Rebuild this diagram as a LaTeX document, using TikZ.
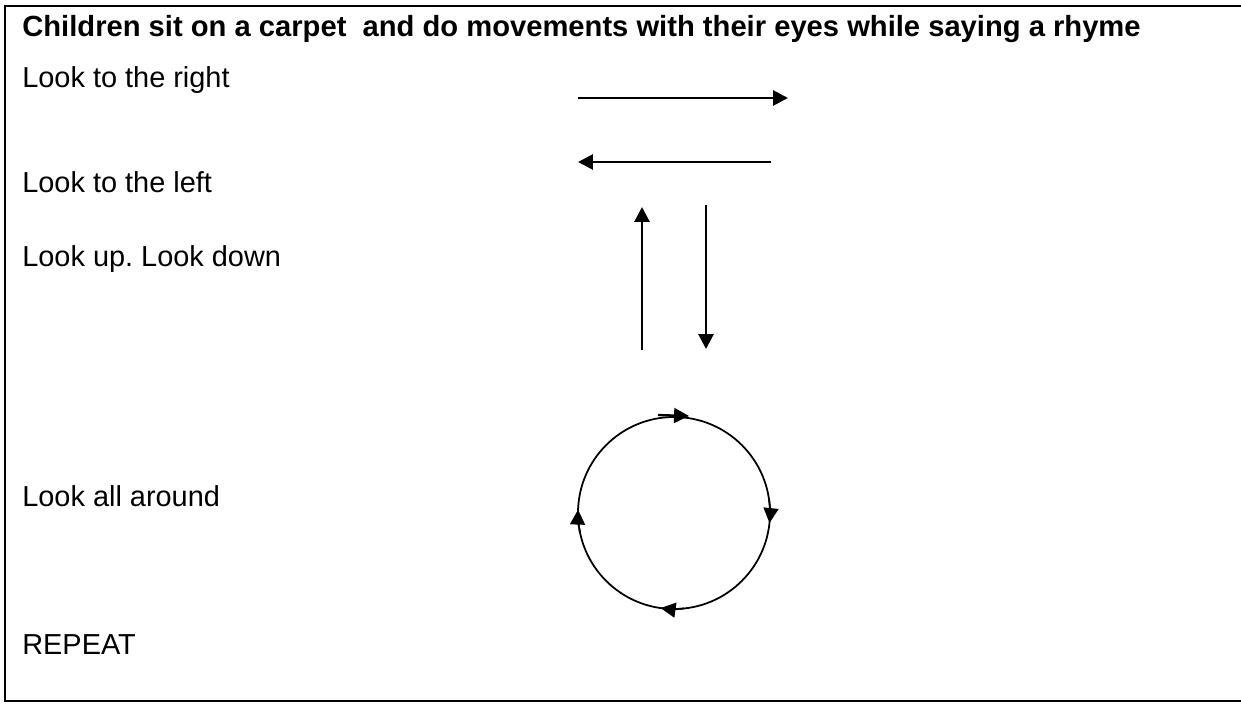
\documentclass[tikz,border=0pt]{standalone}
\usepackage{fontspec}
\setmainfont{Liberation Sans}
\usetikzlibrary{arrows.meta}
\frenchspacing

\begin{document}
\begin{tikzpicture}[x=0.02cm,y=0.02cm,
    every node/.style={font=\fontsize{16.45}{19}\selectfont, anchor=base west, inner sep=0pt},
    mv/.style={line width=1.6pt, -{Triangle[length=8.5pt,width=8.5pt]}},
    ringtip/.style={line width=1pt, -{Triangle[length=8.5pt,width=8.5pt]}}]
    \useasboundingbox (0,0) rectangle (1241,704);
    % frame, its right side lies past the page
    \draw[line width=1.3pt] (1241,698) -- (5,698) -- (5,3) -- (1241,3);
    % rhyme lines
    \node[font=\fontsize{16.6}{19}\selectfont\bfseries] (title) at (22,667) {Children sit on a carpet \ and do movements with their eyes while saying a rhyme};
    \node (right) at (22,616) {Look to the right};
    \node (left) at (22,511) {Look to the left};
    \node (updown) at (22,437) {Look up. Look down};
    \node (around) at (22,198) {Look all around};
    \node (repeat) at (22,50) {REPEAT};
    % eye movements
    \coordinate (r0) at (578,606);
    \coordinate (r1) at (788,606);
    \coordinate (l0) at (771,542);
    \coordinate (l1) at (578,542);
    \coordinate (u0) at (642,354);
    \coordinate (u1) at (642,497);
    \coordinate (d0) at (706,499);
    \coordinate (d1) at (706,355);
    \draw[mv] (r0) -- (r1);
    \draw[mv] (l0) -- (l1);
    \draw[mv] (u0) -- (u1);
    \draw[mv] (d0) -- (d1);
    \coordinate (ring) at (674,191);
    \draw[line width=1pt] (ring) circle (96);
    \draw[ringtip] (ring) ++(8:96) arc (8:-6:96);
    \draw[ringtip] (ring) ++(276:96) arc (276:262:96);
    \draw[ringtip] (ring) ++(192:96) arc (192:178:96);
    \coordinate (t0) at (658,289);
    \coordinate (t1) at (689,288);
    \draw[line width=1.3pt, -{Triangle[length=8.5pt,width=8.5pt]}] (t0) -- (t1);
\end{tikzpicture}
\end{document}
